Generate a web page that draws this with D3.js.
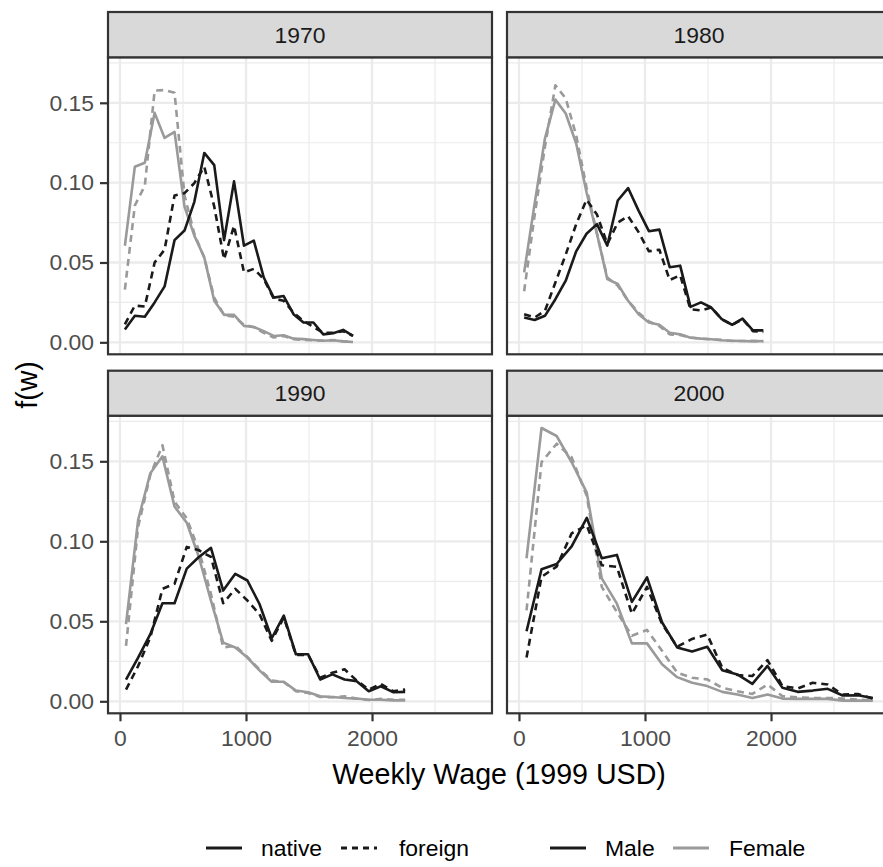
<!DOCTYPE html>
<html>
<head>
<meta charset="utf-8">
<script src="https://cdn.jsdelivr.net/npm/d3@7"></script>
<style>
  html, body { margin: 0; padding: 0; background: #ffffff; }
  svg { display: block; }
  text { font-family: "Liberation Sans", Arial, Helvetica, sans-serif; }
</style>
</head>
<body>
<div id="chart"></div>
<script>
// ---------------- data ----------------
const years = ["1970", "1980", "1990", "2000"];

const wage_1970 = [39,118,197,275,354,433,512,590,669,748,826,905,984,1062,1141,1220,1299,1377,1456,1535,1613,1692,1771,1849];
const wage_1980 = [41,124,206,289,371,454,536,619,701,784,866,949,1031,1114,1196,1279,1361,1444,1526,1609,1691,1774,1856,1939];
const wage_1990 = [48,144,241,337,433,530,626,722,819,915,1011,1107,1204,1300,1396,1493,1589,1685,1782,1878,1974,2070,2167,2263];
const wage_2000 = [60,179,299,418,538,657,777,896,1016,1135,1255,1374,1494,1613,1733,1852,1972,2091,2211,2330,2450,2569,2689,2808];

const male_native_1970 = [0.008,0.0166,0.016,0.025,0.035,0.064,0.070,0.088,0.1186,0.111,0.064,0.1008,0.0605,0.0637,0.0406,0.028,0.029,0.0176,0.0124,0.0124,0.005,0.0057,0.0078,0.004];
const male_foreign_1970 = [0.0113,0.023,0.0224,0.050,0.058,0.092,0.0934,0.0997,0.110,0.085,0.052,0.073,0.0438,0.046,0.0396,0.0274,0.026,0.0186,0.0134,0.0096,0.006,0.006,0.007,0.004];
const female_native_1970 = [0.0605,0.110,0.1125,0.1437,0.128,0.1318,0.085,0.0668,0.0532,0.026,0.0172,0.0172,0.0103,0.0096,0.007,0.004,0.0044,0.0023,0.002,0.0015,0.001,0.0013,0.0006,0.0002];
const female_foreign_1970 = [0.033,0.0857,0.098,0.1576,0.158,0.1563,0.092,0.068,0.053,0.028,0.017,0.016,0.011,0.0095,0.006,0.003,0.004,0.002,0.0015,0.0013,0.001,0.0015,0.0006,0.0003];

const male_native_1980 = [0.0155,0.014,0.0166,0.027,0.0386,0.057,0.068,0.074,0.0606,0.0888,0.0966,0.0825,0.0696,0.0706,0.047,0.048,0.0222,0.025,0.0218,0.0145,0.011,0.0149,0.0075,0.0075];
const male_foreign_1980 = [0.0176,0.0155,0.0197,0.0375,0.055,0.074,0.0893,0.080,0.0616,0.075,0.079,0.069,0.057,0.058,0.039,0.042,0.0207,0.020,0.0218,0.0145,0.011,0.0145,0.007,0.0065];
const female_native_1980 = [0.0438,0.0867,0.1276,0.152,0.1433,0.1245,0.094,0.0679,0.0396,0.0365,0.026,0.0176,0.0124,0.011,0.006,0.005,0.0029,0.0023,0.0019,0.0013,0.001,0.0008,0.0006,0.0008];
const female_foreign_1980 = [0.032,0.0794,0.1224,0.161,0.1527,0.1296,0.097,0.068,0.0406,0.0354,0.026,0.0186,0.013,0.0103,0.005,0.0046,0.003,0.0023,0.0019,0.0015,0.0008,0.0008,0.001,0.0004];

const male_native_1990 = [0.0136,0.0273,0.042,0.0613,0.0613,0.0829,0.0902,0.0959,0.0692,0.0797,0.0755,0.0608,0.0394,0.0535,0.0294,0.0294,0.0136,0.0168,0.0136,0.0126,0.0063,0.0094,0.0057,0.0059];
const male_foreign_1990 = [0.0073,0.022,0.040,0.0703,0.0734,0.0965,0.0944,0.0902,0.0613,0.0703,0.063,0.0545,0.0378,0.0524,0.029,0.029,0.0147,0.0178,0.020,0.013,0.0073,0.0109,0.0063,0.0073];
const female_native_1990 = [0.0482,0.1133,0.1426,0.1531,0.1217,0.1116,0.0902,0.0629,0.0367,0.0336,0.0273,0.0193,0.0122,0.0122,0.0067,0.0057,0.0031,0.0027,0.0021,0.0017,0.001,0.001,0.0006,0.0006];
const female_foreign_1990 = [0.0346,0.109,0.1416,0.160,0.1248,0.1143,0.0944,0.0671,0.0336,0.0346,0.0277,0.0199,0.013,0.012,0.0063,0.0052,0.0027,0.0025,0.0031,0.0017,0.0008,0.0015,0.001,0.001];

const male_native_2000 = [0.0438,0.0825,0.0858,0.0968,0.1147,0.0894,0.0915,0.0621,0.0774,0.0494,0.0337,0.0311,0.0341,0.0194,0.0168,0.0109,0.0221,0.0084,0.0059,0.0067,0.0078,0.0036,0.0038,0.0021];
const male_foreign_2000 = [0.0274,0.0778,0.0842,0.105,0.110,0.085,0.084,0.0547,0.0715,0.0484,0.0341,0.039,0.0417,0.021,0.0164,0.0158,0.0257,0.0095,0.008,0.0116,0.0105,0.0042,0.0046,0.0017];
const female_native_2000 = [0.0894,0.1708,0.1658,0.1494,0.1304,0.0768,0.061,0.0362,0.0362,0.0231,0.0151,0.0116,0.0095,0.0059,0.0042,0.0021,0.0042,0.0017,0.0015,0.0015,0.0015,0.0004,0.0004,0.0004];
const female_foreign_2000 = [0.0568,0.1494,0.161,0.1525,0.1283,0.0715,0.0558,0.041,0.0446,0.0316,0.0179,0.0147,0.0137,0.0084,0.0063,0.0046,0.0105,0.0032,0.0025,0.0021,0.0021,0.0017,0.0011,0.0004];

const xTicks = [0, 1000, 2000];
const xMinor = [500, 1500, 2500];
const yTicks = [0, 0.05, 0.10, 0.15];
const yMinor = [0.025, 0.075, 0.125, 0.175];
const sexes = ["Male", "Female"];
const origins = ["native", "foreign"];

// table built from the arrays
const panels = [
  {year: "1970", wage: wage_1970, series: {Male: {native: male_native_1970, foreign: male_foreign_1970}, Female: {native: female_native_1970, foreign: female_foreign_1970}}},
  {year: "1980", wage: wage_1980, series: {Male: {native: male_native_1980, foreign: male_foreign_1980}, Female: {native: female_native_1980, foreign: female_foreign_1980}}},
  {year: "1990", wage: wage_1990, series: {Male: {native: male_native_1990, foreign: male_foreign_1990}, Female: {native: female_native_1990, foreign: female_foreign_1990}}},
  {year: "2000", wage: wage_2000, series: {Male: {native: male_native_2000, foreign: male_foreign_2000}, Female: {native: female_native_2000, foreign: female_foreign_2000}}}
];

// ---------------- layout ----------------
const W = 883, H = 867;
const colLeft = [108, 507];
const panelW = 384;
const rows = [
  {stripTop: 12, plotTop: 57.3, plotBot: 354.3},
  {stripTop: 370.7, plotTop: 415.7, plotBot: 713.3}
];
const colour = d3.scaleOrdinal().domain(sexes).range(["#1a1a1a", "#9a9a9a"]);
const dash = d3.scaleOrdinal().domain(origins).range([null, "7,5"]);
const tickFont = "22.9px";

const svg = d3.select("#chart").append("svg")
  .attr("width", W).attr("height", H)
  .attr("viewBox", `0 0 ${W} ${H}`);

svg.append("rect").attr("width", W).attr("height", H).attr("fill", "#ffffff");

panels.forEach((p, k) => {
  const r = rows[Math.floor(k / 2)];
  const c = k % 2;
  const left = colLeft[c];
  const x = d3.scaleLinear().domain([-95, 2952]).range([left, left + panelW]);
  const y = d3.scaleLinear().domain([-0.0075, 0.1785]).range([r.plotBot, r.plotTop]);

  const g = svg.append("g");
  g.append("rect").attr("x", left).attr("y", r.plotTop).attr("width", panelW)
    .attr("height", r.plotBot - r.plotTop).attr("fill", "#ffffff");
  // minor grid
  g.selectAll(".xmin").data(xMinor).join("line")
    .attr("x1", d => x(d)).attr("x2", d => x(d))
    .attr("y1", r.plotTop).attr("y2", r.plotBot)
    .attr("stroke", "#ebebeb").attr("stroke-width", 1.2);
  g.selectAll(".ymin").data(yMinor).join("line")
    .attr("x1", left).attr("x2", left + panelW)
    .attr("y1", d => y(d)).attr("y2", d => y(d))
    .attr("stroke", "#ebebeb").attr("stroke-width", 1.2);
  // major grid
  g.selectAll(".xmaj").data(xTicks).join("line")
    .attr("x1", d => x(d)).attr("x2", d => x(d))
    .attr("y1", r.plotTop).attr("y2", r.plotBot)
    .attr("stroke", "#ebebeb").attr("stroke-width", 2.3);
  g.selectAll(".ymaj").data(yTicks).join("line")
    .attr("x1", left).attr("x2", left + panelW)
    .attr("y1", d => y(d)).attr("y2", d => y(d))
    .attr("stroke", "#ebebeb").attr("stroke-width", 2.3);

  // lines
  const line = d3.line().x(d => x(d[0])).y(d => y(d[1]));
  const clipId = "clip" + k;
  svg.append("clipPath").attr("id", clipId).append("rect")
    .attr("x", left).attr("y", r.plotTop).attr("width", panelW).attr("height", r.plotBot - r.plotTop);
  const lg = g.append("g").attr("clip-path", `url(#${clipId})`);
  ["Female", "Male"].forEach(s => {
    ["foreign", "native"].forEach(o => {
      const pts = p.wage.map((w, i) => [w, p.series[s][o][i]]);
      lg.append("path").datum(pts)
        .attr("d", line)
        .attr("fill", "none")
        .attr("stroke", colour(s))
        .attr("stroke-width", 2.6)
        .attr("stroke-dasharray", dash(o))
        .attr("stroke-linejoin", "round");
    });
  });

  // panel border
  g.append("rect").attr("x", left).attr("y", r.plotTop).attr("width", panelW)
    .attr("height", r.plotBot - r.plotTop).attr("fill", "none")
    .attr("stroke", "#333333").attr("stroke-width", 2.2);

  // strip
  g.append("rect").attr("x", left).attr("y", r.stripTop).attr("width", panelW)
    .attr("height", r.plotTop - r.stripTop).attr("fill", "#d9d9d9")
    .attr("stroke", "#333333").attr("stroke-width", 2.2);
  g.append("text").attr("x", left + panelW / 2).attr("y", (r.stripTop + r.plotTop) / 2 + 8.2)
    .attr("text-anchor", "middle").attr("font-size", tickFont).attr("fill", "#1a1a1a")
    .text(p.year);

  if (c === 0) {
    const ay = g.append("g").attr("transform", `translate(${left},0)`)
      .call(d3.axisLeft(y).tickValues(yTicks).tickFormat(d3.format(".2f")).tickSize(8).tickPadding(6));
    ay.select(".domain").remove();
    ay.selectAll(".tick line").attr("stroke", "#333333").attr("stroke-width", 2.2);
    ay.selectAll(".tick text").attr("font-size", tickFont).attr("fill", "#4d4d4d")
      .attr("font-family", "Liberation Sans, Arial, sans-serif");
  }
  if (k >= 2) {
    const ax = g.append("g").attr("transform", `translate(0,${r.plotBot})`)
      .call(d3.axisBottom(x).tickValues(xTicks).tickFormat(d3.format("d")).tickSize(8).tickPadding(8.2));
    ax.select(".domain").remove();
    ax.selectAll(".tick line").attr("stroke", "#333333").attr("stroke-width", 2.2);
    ax.selectAll(".tick text").attr("font-size", tickFont).attr("fill", "#4d4d4d")
      .attr("font-family", "Liberation Sans, Arial, sans-serif");
  }
});

// axis titles
svg.append("text").attr("x", 499).attr("y", 783.5).attr("text-anchor", "middle")
  .attr("font-size", "28.6px").attr("fill", "#000000").text("Weekly Wage (1999 USD)");
svg.append("text").attr("transform", "translate(37,385) rotate(-90)")
  .attr("text-anchor", "middle").attr("font-size", "28.6px").attr("fill", "#000000").text("f(w)");

// legends
const legY = 848;
const legendItems = [
  {label: "native", x0: 206, x1: 242, tx: 261, stroke: "#1a1a1a", dash: null},
  {label: "foreign", x0: 341, x1: 377, tx: 399, stroke: "#1a1a1a", dash: "6,5"},
  {label: "Male", x0: 550, x1: 586, tx: 605, stroke: colour("Male"), dash: null},
  {label: "Female", x0: 673, x1: 709, tx: 729, stroke: colour("Female"), dash: null}
];
const leg = svg.append("g");
legendItems.forEach(d => {
  leg.append("line").attr("x1", d.x0).attr("x2", d.x1).attr("y1", legY).attr("y2", legY)
    .attr("stroke", d.stroke).attr("stroke-width", 3).attr("stroke-dasharray", d.dash);
  leg.append("text").attr("x", d.tx).attr("y", legY + 8.2).attr("font-size", tickFont)
    .attr("fill", "#000000").text(d.label);
});
</script>
</body>
</html>
